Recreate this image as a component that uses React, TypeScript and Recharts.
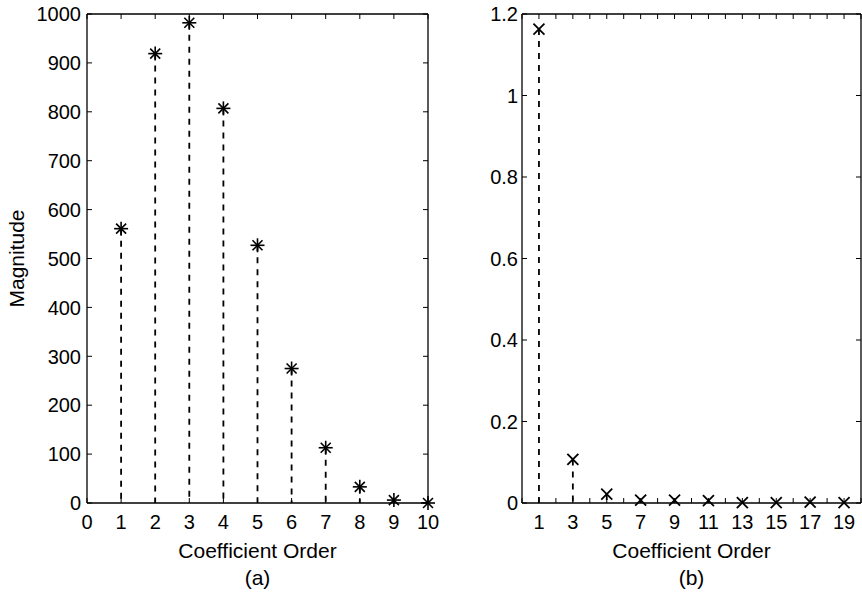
import React from 'react';
import { ScatterChart, Scatter, XAxis, YAxis, ReferenceLine, Label } from 'recharts';

const FONT = '"Liberation Sans", Arial, Helvetica, sans-serif';

// (a) magnitude of each coefficient
const ORDERS_A = [1, 2, 3, 4, 5, 6, 7, 8, 9, 10];
const MAGNITUDES_A = [561, 919, 982, 807, 527, 275, 113, 33, 6, 0];
const X_TICKS_A = [0, 1, 2, 3, 4, 5, 6, 7, 8, 9, 10];
const Y_TICKS_A = [0, 100, 200, 300, 400, 500, 600, 700, 800, 900, 1000];

// (b) odd-order coefficients
const ORDERS_B = [1, 3, 5, 7, 9, 11, 13, 15, 17, 19];
const MAGNITUDES_B = [1.163, 0.107, 0.022, 0.007, 0.007, 0.006, 0.001, 0.001, 0.002, 0.001];
const X_TICKS_B = [0, 1, 2, 3, 4, 5, 6, 7, 8, 9, 10, 11, 12, 13, 14, 15, 16, 17, 18, 19, 20];
const Y_TICKS_B = [0, 0.2, 0.4, 0.6, 0.8, 1, 1.2];

const TICK_LEN = 5;
const AXIS_STROKE = { stroke: '#000', strokeWidth: 1.3 };

const BottomTick = ({ x, y, payload, showLabel }: any) => (
  <g>
    <line x1={x} y1={y} x2={x} y2={y - TICK_LEN} stroke="#000" strokeWidth={1} />
    {showLabel(payload.value) && (
      <text x={x} y={y + 26} textAnchor="middle" fontSize={20} fontFamily={FONT} fill="#000">
        {payload.value}
      </text>
    )}
  </g>
);

const TopTick = ({ x, y }: any) => (
  <line x1={x} y1={y} x2={x} y2={y + TICK_LEN} stroke="#000" strokeWidth={1} />
);

const LeftTick = ({ x, y, payload, gap }: any) => (
  <g>
    <line x1={x} y1={y} x2={x + TICK_LEN} y2={y} stroke="#000" strokeWidth={1} />
    <text x={x - gap} y={y} dy="0.36em" textAnchor="end" fontSize={20} fontFamily={FONT} fill="#000">
      {payload.value}
    </text>
  </g>
);

const RightTick = ({ x, y }: any) => (
  <line x1={x} y1={y} x2={x - TICK_LEN} y2={y} stroke="#000" strokeWidth={1} />
);

const Asterisk = ({ cx, cy }: any) => (
  <g stroke="#000" strokeWidth={1.6}>
    <line x1={cx - 7} y1={cy} x2={cx + 7} y2={cy} />
    <line x1={cx} y1={cy - 7} x2={cx} y2={cy + 7} />
    <line x1={cx - 5} y1={cy - 5} x2={cx + 5} y2={cy + 5} />
    <line x1={cx - 5} y1={cy + 5} x2={cx + 5} y2={cy - 5} />
  </g>
);

const Cross = ({ cx, cy }: any) => (
  <g stroke="#000" strokeWidth={1.8}>
    <line x1={cx - 5.5} y1={cy - 5.5} x2={cx + 5.5} y2={cy + 5.5} />
    <line x1={cx - 5.5} y1={cy + 5.5} x2={cx + 5.5} y2={cy - 5.5} />
  </g>
);

const Nothing = () => <g />;

const xTitle = (caption: string) => ({ viewBox }: any) => {
  const cx = viewBox.x + viewBox.width / 2;
  return (
    <g fontFamily={FONT} fontSize={21} fill="#000" textAnchor="middle">
      <text x={cx} y={viewBox.y + 55}>Coefficient Order</text>
      <text x={cx} y={viewBox.y + 82}>{caption}</text>
    </g>
  );
};

const yTitle = ({ viewBox }: any) => {
  const x = viewBox.x - 62;
  const y = viewBox.y + viewBox.height / 2;
  return (
    <text
      x={x}
      y={y}
      transform={`rotate(-90, ${x}, ${y})`}
      textAnchor="middle"
      fontFamily={FONT}
      fontSize={21}
      fill="#000"
    >
      Magnitude
    </text>
  );
};

interface StemPanelProps {
  orders: number[];
  values: number[];
  xTicks: number[];
  yTicks: number[];
  xDomain: [number, number];
  yDomain: [number, number];
  showXLabel: (v: number) => boolean;
  marker: (p: any) => React.ReactElement;
  caption: string;
  width: number;
  margin: { top: number; right: number; bottom: number; left: number };
  labelGap: number;
  yLabel?: boolean;
}

const StemPanel = ({
  orders, values, xTicks, yTicks, xDomain, yDomain, showXLabel, marker,
  caption, width, margin, labelGap, yLabel,
}: StemPanelProps) => {
  const data = orders.map((order, i) => ({ order, value: values[i] }));
  return (
    <ScatterChart width={width} height={593} margin={margin} style={{ overflow: 'visible' }}>
      <XAxis
        xAxisId="bottom"
        type="number"
        dataKey="order"
        domain={xDomain}
        ticks={xTicks}
        interval={0}
        height={1}
        tickSize={0}
        tickMargin={0}
        tickLine={false}
        axisLine={AXIS_STROKE}
        tick={<BottomTick showLabel={showXLabel} />}
      >
        <Label content={xTitle(caption)} />
      </XAxis>
      <XAxis
        xAxisId="top"
        orientation="top"
        type="number"
        dataKey="order"
        domain={xDomain}
        ticks={xTicks}
        interval={0}
        height={1}
        tickSize={0}
        tickMargin={0}
        tickLine={false}
        axisLine={AXIS_STROKE}
        tick={<TopTick />}
      />
      <YAxis
        yAxisId="left"
        type="number"
        dataKey="value"
        domain={yDomain}
        ticks={yTicks}
        interval={0}
        width={1}
        tickSize={0}
        tickMargin={0}
        tickLine={false}
        axisLine={AXIS_STROKE}
        tick={<LeftTick gap={labelGap} />}
      >
        {yLabel && <Label content={yTitle} />}
      </YAxis>
      <YAxis
        yAxisId="right"
        orientation="right"
        type="number"
        dataKey="value"
        domain={yDomain}
        ticks={yTicks}
        interval={0}
        width={1}
        tickSize={0}
        tickMargin={0}
        tickLine={false}
        axisLine={AXIS_STROKE}
        tick={<RightTick />}
      />
      {data.map((d) => (
        <ReferenceLine
          key={d.order}
          xAxisId="bottom"
          yAxisId="left"
          segment={[{ x: d.order, y: d.value }, { x: d.order, y: 0 }]}
          stroke="#000"
          strokeWidth={1.8}
          strokeDasharray="6 6"
        />
      ))}
      <Scatter
        xAxisId="bottom"
        yAxisId="left"
        data={data}
        shape={marker}
        isAnimationActive={false}
      />
      <Scatter
        xAxisId="top"
        yAxisId="right"
        data={data}
        shape={Nothing}
        isAnimationActive={false}
      />
    </ScatterChart>
  );
};

export default function App() {
  return (
    <div style={{ position: 'absolute', left: 0, top: 0, width: 862, height: 593, background: '#fff', overflow: 'hidden' }}>
      <div style={{ position: 'absolute', left: 0, top: 0 }}>
        <StemPanel
          orders={ORDERS_A}
          values={MAGNITUDES_A}
          xTicks={X_TICKS_A}
          yTicks={Y_TICKS_A}
          xDomain={[0, 10]}
          yDomain={[0, 1000]}
          showXLabel={() => true}
          marker={Asterisk}
          caption="(a)"
          width={440}
          margin={{ top: 13, right: 11, bottom: 89, left: 86 }}
          labelGap={6}
          yLabel
        />
      </div>
      <div style={{ position: 'absolute', left: 440, top: 0 }}>
        <StemPanel
          orders={ORDERS_B}
          values={MAGNITUDES_B}
          xTicks={X_TICKS_B}
          yTicks={Y_TICKS_B}
          xDomain={[0, 20]}
          yDomain={[0, 1.2]}
          showXLabel={(v) => v % 2 === 1}
          marker={Cross}
          caption="(b)"
          width={422}
          margin={{ top: 13, right: 0, bottom: 89, left: 81 }}
          labelGap={4}
        />
      </div>
    </div>
  );
}
